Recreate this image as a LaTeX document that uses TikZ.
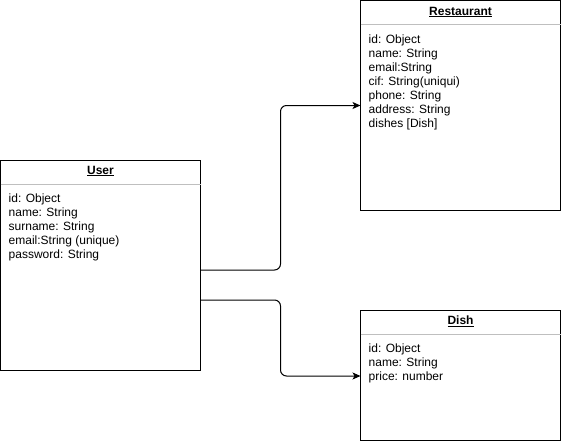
\documentclass[tikz,border=0pt]{standalone}
\usepackage{fontspec}
\setmainfont{Liberation Sans}
\usetikzlibrary{arrows.meta,positioning}

\begin{document}
\begin{tikzpicture}[x=1pt,y=-1pt,font=\fontsize{12}{14}\selectfont]
\tikzstyle{entity}=[rectangle,draw=black,line width=1pt,
inner sep=0pt,outer sep=0pt,minimum width=200pt,anchor=north west]
\tikzstyle{title}=[font=\fontsize{12}{14}\selectfont\bfseries,inner sep=0pt]
\tikzstyle{fields}=[align=left,anchor=north west,inner sep=0pt]
\tikzstyle{divider}=[line width=1pt,draw=black!25]
\tikzstyle{link}=[line width=1pt,rounded corners=6pt,
-{Stealth[length=8pt,width=7pt,inset=2pt]}]
\useasboundingbox (0,0) rectangle (561,441);

\node[entity,minimum height=210pt] at (0.5,160) (user) {};
\node[entity,minimum height=209pt] at (360.5,1) (restaurant) {};
\node[entity,minimum height=130pt] at (360.5,310) (dish) {};

\node[title] at ([yshift=-11pt]user.north) (usertitle) {\underline{User}};
\node[title] at ([yshift=-11pt]restaurant.north) (restauranttitle) {\underline{Restaurant}};
\node[title] at ([yshift=-11pt]dish.north) (dishtitle) {\underline{Dish}};

\draw[divider] ([yshift=-24pt]user.north west) -- ([yshift=-24pt]user.north east);
\draw[divider] ([yshift=-24pt]restaurant.north west) -- ([yshift=-24pt]restaurant.north east);
\draw[divider] ([yshift=-24pt]dish.north west) -- ([yshift=-24pt]dish.north east);

\node[fields] at ([xshift=8pt,yshift=-33.5pt]user.north west) (userfields)
{id: Object\\name: String\\surname: String\\email:String (unique)\\password: String};
\node[fields] at ([xshift=8pt,yshift=-33.5pt]restaurant.north west) (restaurantfields)
{id: Object\\name: String\\email:String\\cif: String(uniqui)\\phone: String\\address: String\\dishes [Dish]};
\node[fields] at ([xshift=8pt,yshift=-33.5pt]dish.north west) (dishfields)
{id: Object\\name: String\\price: number};

\draw[link] ([yshift=-5pt]user.east) -- ++(80,0) |- (restaurant.west);
\draw[link] ([yshift=-35pt]user.east) -- ++(80,0) |- ([yshift=-1pt]dish.west);

\end{tikzpicture}
\end{document}
